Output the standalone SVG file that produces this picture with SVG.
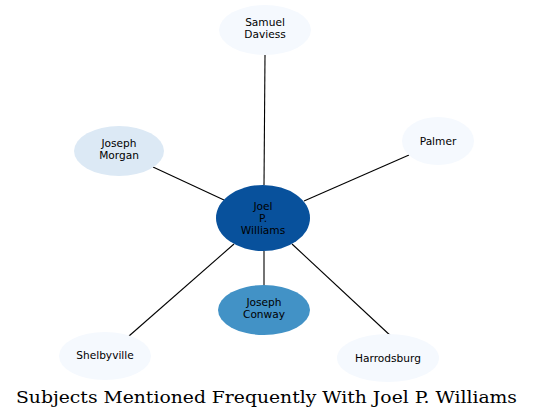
<svg xmlns="http://www.w3.org/2000/svg" width="535" height="420" viewBox="0 0 535 420">
<style>
.lbl{font-family:"DejaVu Sans",sans-serif;font-size:10.6px;fill:#000;text-anchor:middle}
.edge{stroke:#000;stroke-width:1.1;fill:none}
.title{font-family:"DejaVu Serif",serif;font-size:17px;fill:#000;text-anchor:middle}
</style>
<rect width="535" height="420" fill="#fff"/>
<g id="connectors">
<line class="edge" x1="264" y1="185" x2="265" y2="55"/>
<line class="edge" x1="224" y1="200" x2="153" y2="167"/>
<line class="edge" x1="304" y1="201" x2="409" y2="155"/>
<line class="edge" x1="234" y1="244" x2="129" y2="336"/>
<line class="edge" x1="292" y1="244" x2="393" y2="338"/>
<line class="edge" x1="264" y1="251" x2="264" y2="285"/>
</g>
<g id="samuel-daviess">
<ellipse cx="265" cy="30" rx="46" ry="25" fill="#f5f9fe"/>
<text class="lbl" x="265" y="26">Samuel</text>
<text class="lbl" x="265" y="38">Daviess</text>
</g>
<g id="joseph-morgan">
<ellipse cx="119" cy="151" rx="45" ry="25" fill="#dce9f5"/>
<text class="lbl" x="119" y="147">Joseph</text>
<text class="lbl" x="119" y="159">Morgan</text>
</g>
<g id="palmer">
<ellipse cx="438" cy="141" rx="36" ry="24" fill="#f5f9fe"/>
<text class="lbl" x="438" y="145">Palmer</text>
</g>
<g id="joel-p-williams">
<ellipse cx="263" cy="218" rx="47" ry="33" fill="#08519c"/>
<text class="lbl" x="263" y="210">Joel</text>
<text class="lbl" x="263" y="222">P.</text>
<text class="lbl" x="263" y="234">Williams</text>
</g>
<g id="joseph-conway">
<ellipse cx="264" cy="310" rx="46" ry="25" fill="#4292c6"/>
<text class="lbl" x="264" y="306">Joseph</text>
<text class="lbl" x="264" y="318">Conway</text>
</g>
<g id="shelbyville">
<ellipse cx="105" cy="356" rx="46" ry="24" fill="#f5f9fe"/>
<text class="lbl" x="105" y="359">Shelbyville</text>
</g>
<g id="harrodsburg">
<ellipse cx="388" cy="358" rx="51" ry="24" fill="#f5f9fe"/>
<text class="lbl" x="388" y="362">Harrodsburg</text>
</g>
<text class="title" x="266.5" y="403" textLength="501" lengthAdjust="spacingAndGlyphs">Subjects Mentioned Frequently With Joel P. Williams</text>
</svg>
